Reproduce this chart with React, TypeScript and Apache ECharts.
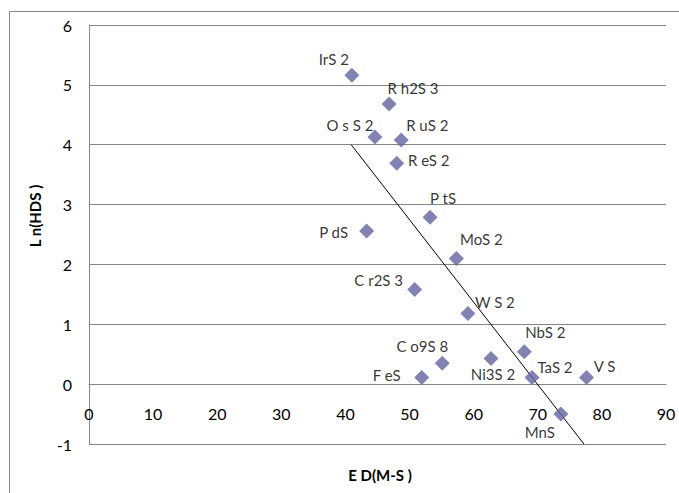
import React, { useEffect, useRef } from "react";
import * as echarts from "echarts";

// Data
const compounds = ["IrS 2", "R h2S 3", "O s S 2", "R uS 2", "R eS 2", "P tS", "P dS", "MoS 2", "C r2S 3", "W S 2", "NbS 2", "C o9S 8", "Ni3S 2", "F eS", "TaS 2", "V S", "MnS"];
const edValues = [41.0, 46.8, 44.6, 48.7, 48.0, 53.2, 43.3, 57.3, 50.8, 59.1, 67.9, 55.1, 62.7, 51.9, 69.1, 77.6, 73.6];
const lnHdsValues = [5.16, 4.68, 4.13, 4.08, 3.69, 2.79, 2.56, 2.1, 1.58, 1.18, 0.54, 0.35, 0.43, 0.11, 0.11, 0.11, -0.5];
const trendEd = [40.9, 77.2];
const trendLn = [4.0, -1.0];

// Label placement (pixels, relative to marker centre)
const labelOffsets: number[][] = [
  [-18, -16], [24, -16], [-25, -12], [26, -15], [32, -3], [13, -19], [-33, 1], [25, -19],
  [-36, -10], [27, -12], [21, -20], [-20, -17], [2, 16], [-35, -3], [23, -11], [18, -12], [-21, 18],
];

const FONT = "Lato, 'Open Sans', sans-serif";

export default function App() {
  const ref = useRef<HTMLDivElement>(null);
  useEffect(() => {
    document.body.style.margin = "0";
    const chart = echarts.init(ref.current!, undefined, { renderer: "svg" });
    const scatterData = compounds.map((name, i) => ({
      name,
      value: [edValues[i], lnHdsValues[i]],
    }));
    const unit = (493 - 49 - 25) / 7;
    chart.setOption({
      animation: false,
      backgroundColor: "#ffffff",
      textStyle: { fontFamily: FONT },
      grid: { left: 89, top: 25, right: 13, bottom: 49, containLabel: false },
      xAxis: {
        type: "value",
        min: 0,
        max: 90,
        interval: 10,
        position: "bottom",
        offset: -unit,
        axisLine: { show: true, onZero: false, lineStyle: { color: "#868686", width: 1 } },
        axisTick: { show: false },
        splitLine: { show: false },
        axisLabel: { margin: 21, fontSize: 16, color: "#000", fontFamily: FONT },
      },
      yAxis: {
        type: "value",
        min: -1,
        max: 6,
        interval: 1,
        axisLine: { show: true, lineStyle: { color: "#868686", width: 1 } },
        axisTick: { show: false },
        splitLine: { show: true, lineStyle: { color: "#868686", width: 1 } },
        axisLabel: { margin: 17, fontSize: 16, color: "#000", fontFamily: FONT },
      },
      graphic: [
        {
          type: "rect",
          shape: { x: 9.5, y: 11.5, width: 700, height: 500 },
          style: { fill: "none", stroke: "#868686", lineWidth: 1 },
          silent: true,
        },
        {
          type: "text",
          x: 380,
          y: 475,
          style: { text: "E D(M-S )", font: `bold 15px ${FONT}`, fill: "#000", textAlign: "center", textVerticalAlign: "middle" },
        },
        {
          type: "text",
          x: 35,
          y: 216,
          rotation: Math.PI / 2,
          style: { text: "L n(HDS )", font: `bold 15px ${FONT}`, fill: "#000", textAlign: "center", textVerticalAlign: "middle" },
        },
      ],
      series: [
        {
          type: "line",
          data: trendEd.map((x, i) => [x, trendLn[i]]),
          symbol: "none",
          lineStyle: { color: "#000", width: 1 },
          z: 1,
        },
        {
          type: "scatter",
          symbol: "diamond",
          symbolSize: 15,
          itemStyle: { color: "#6464A0" },
          data: scatterData,
          label: {
            show: true,
            position: "inside",
            formatter: "{b}",
            color: "#000",
            fontSize: 15,
            fontFamily: FONT,
            align: "center",
            verticalAlign: "middle",
          },
          labelLayout: (params: any) => ({
            dx: labelOffsets[params.dataIndex][0],
            dy: labelOffsets[params.dataIndex][1],
            hideOverlap: false,
          }),
          z: 2,
        },
      ],
    });
    return () => chart.dispose();
  }, []);
  return <div ref={ref} style={{ width: 679, height: 493 }} />;
}
